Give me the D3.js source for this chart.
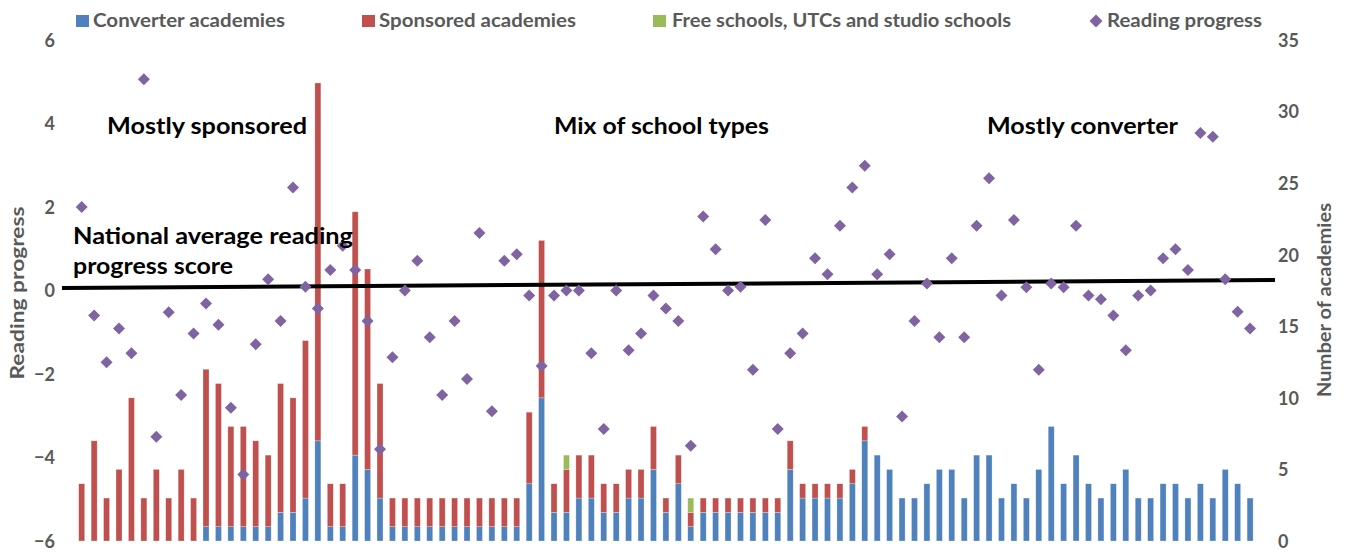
<!DOCTYPE html>
<html>
<head>
<meta charset="utf-8">
<script src="https://cdn.jsdelivr.net/npm/d3@7/dist/d3.min.js"></script>
<style>
  html, body { margin: 0; padding: 0; background: #ffffff; }
  svg { display: block; }
  text { font-family: Lato, "Open Sans", "DejaVu Sans", sans-serif; }
</style>
</head>
<body>
<svg id="chart" width="1351" height="556"></svg>
<script>
// ---------------- DATA ----------------
const converter = [0,0,0,0,0,0,0,0,0,0,
  1,1,1,1,1,1,
  2,2,3,7,1,1,6,5,3,
  1,1,1,1,1,1,1,1,1,1,1,
  4,10,2,2,3,3,2,2,3,3,5,2,
  4,1,2,
  2,2,2,2,2,2,
  5,3,3,3,3,4,7,
  6,5,3,3,4,5,5,3,6,6,3,4,3,5,8,4,
  6,4,3,4,5,3,3,4,4,3,4,3,5,4,3];
const sponsored = [4,7,3,5,10,3,5,3,5,3,
  11,10,7,7,6,5,
  9,8,11,25,3,3,17,14,8,
  2,2,2,2,2,2,2,2,2,2,2,
  5,11,2,3,3,3,2,2,2,2,3,1,
  2,1,1,
  1,1,1,1,1,1,
  2,1,1,1,1,1,1,
  0,0,0,0,0,0,0,0,0,0,0,0,0,0,0,0,
  0,0,0,0,0,0,0,0,0,0,0,0,0,0,0];
const freeSchools = [0,0,0,0,0,0,0,0,0,0,
  0,0,0,0,0,0,
  0,0,0,0,0,0,0,0,0,
  0,0,0,0,0,0,0,0,0,0,0,
  0,0,0,1,0,0,0,0,0,0,0,0,
  0,1,0,
  0,0,0,0,0,0,
  0,0,0,0,0,0,0,
  0,0,0,0,0,0,0,0,0,0,0,0,0,0,0,0,
  0,0,0,0,0,0,0,0,0,0,0,0,0,0,0];
const readingProgress = [2.0,-0.6,-1.72,-0.91,-1.5,5.06,-3.5,-0.52,-2.5,-1.03,
  -0.31,-0.82,-2.81,-4.41,-1.29,0.27,
  -0.73,2.47,0.09,-0.43,0.49,1.07,0.49,-0.73,-3.8,
  -1.6,0.0,0.71,-1.12,-2.5,-0.73,-2.12,1.38,-2.89,0.71,0.87,
  -0.12,-1.81,-0.12,0.0,0.0,-1.5,-3.32,0.0,-1.43,-1.03,-0.12,-0.43,
  -0.73,-3.72,1.77,
  0.99,0.0,0.09,-1.9,1.69,-3.32,
  -1.5,-1.03,0.77,0.39,1.55,2.47,2.99,
  0.39,0.87,-3.02,-0.73,0.17,-1.12,0.77,-1.12,1.55,2.69,-0.12,1.69,0.08,-1.9,0.17,0.08,
  1.55,-0.12,-0.21,-0.6,-1.43,-0.12,0.0,0.77,0.99,0.49,3.77,3.68,0.27,-0.51,-0.91];
const nationalAverage = [0.06, 0.25];   // line start / end value
const leftTicks = [-6,-4,-2,0,2,4,6];
const rightTicks = [0,5,10,15,20,25,30,35];
const seriesNames = ["Converter academies","Sponsored academies","Free schools, UTCs and studio schools","Reading progress"];
const seriesColors = ["#4F81BD","#C0504D","#9BBB59","#8064A2"];
const annotations = ["Mostly sponsored","Mix of school types","Mostly converter"];
const nationalLabel = ["National average reading","progress score"];

// ---------------- LAYOUT ----------------
const svg = d3.select("#chart");
const plotL = 62, plotR = 1275, plotT = 40, plotB = 541;
const idx = d3.range(converter.length);
const x = d3.scaleBand().domain(idx).range([75.5, 1256.3]).padding(0);
const yL = d3.scaleLinear().domain([-6, 6]).range([plotB, plotT]);
const yR = d3.scaleLinear().domain([0, 35]).range([plotB, plotT]);
const barW = 6;

// stacked data
const rows = idx.map(i => ({i, c: converter[i], s: sponsored[i], f: freeSchools[i]}));
const stack = d3.stack().keys(["c","s","f"])(rows);

const barsG = svg.append("g");
stack.forEach((layer, k) => {
  barsG.append("g").attr("fill", seriesColors[k])
    .selectAll("rect").data(layer.filter(d => d[1] - d[0] > 0)).join("rect")
    .attr("x", d => x(d.data.i) + x.bandwidth()/2 - barW/2)
    .attr("width", barW)
    .attr("y", d => yR(d[1]))
    .attr("height", d => yR(d[0]) - yR(d[1]))
    .attr("stroke", "#ffffff").attr("stroke-opacity", 0.45).attr("stroke-width", 0.6);
});

// national average line
svg.append("line")
  .attr("x1", plotL).attr("x2", plotR)
  .attr("y1", yL(nationalAverage[0])).attr("y2", yL(nationalAverage[1]))
  .attr("stroke", "#000").attr("stroke-width", 4);

// diamonds
const diamond = r => `M0,${-r}L${r},0L0,${r}L${-r},0Z`;
svg.append("g").selectAll("path").data(idx).join("path")
  .attr("d", diamond(6))
  .attr("transform", i => `translate(${x(i) + x.bandwidth()/2},${yL(readingProgress[i])})`)
  .attr("fill", seriesColors[3]);

// axes (labels only, no lines)
const axL = d3.axisLeft(yL).tickValues(leftTicks).tickSize(0).tickPadding(0);
const gL = svg.append("g").attr("transform", "translate(55,0)").call(axL);
const axR = d3.axisRight(yR).tickValues(rightTicks).tickSize(0).tickPadding(0);
const gR = svg.append("g").attr("transform", "translate(1278,0)").call(axR);
[gL, gR].forEach(g => {
  g.select(".domain").remove();
  g.selectAll("text").attr("fill", "#595959").attr("font-size", 18).attr("font-weight", "bold")
    .attr("font-family", "Lato, 'Open Sans', sans-serif").attr("dy", "0.35em");
});

// axis titles
svg.append("text").attr("transform", "translate(24,293) rotate(-90)")
  .attr("text-anchor", "middle").attr("fill", "#595959").attr("font-size", 19).attr("font-weight", "bold")
  .attr("textLength", 173).attr("lengthAdjust", "spacingAndGlyphs")
  .text("Reading progress");
svg.append("text").attr("transform", "translate(1331,300) rotate(-90)")
  .attr("text-anchor", "middle").attr("fill", "#595959").attr("font-size", 19).attr("font-weight", "bold")
  .attr("textLength", 194).attr("lengthAdjust", "spacingAndGlyphs")
  .text("Number of academies");

// annotations
const annPos = [[107, 200], [554, 215], [987, 191]];
annotations.forEach((t, k) => {
  svg.append("text").attr("x", annPos[k][0]).attr("y", 134)
    .attr("font-size", 23).attr("font-weight", "bold").attr("fill", "#000")
    .attr("textLength", annPos[k][1]).attr("lengthAdjust", "spacingAndGlyphs").text(t);
});
svg.append("text").attr("x", 73).attr("y", 243.5)
  .attr("font-size", 23).attr("font-weight", "bold").attr("fill", "#000")
  .attr("textLength", 280).attr("lengthAdjust", "spacingAndGlyphs").text(nationalLabel[0]);
svg.append("text").attr("x", 73).attr("y", 274)
  .attr("font-size", 23).attr("font-weight", "bold").attr("fill", "#000")
  .attr("textLength", 160).attr("lengthAdjust", "spacingAndGlyphs").text(nationalLabel[1]);

// legend
const legItems = [
  {sx: 76, tx: 93, w: 192},
  {sx: 362, tx: 379, w: 197},
  {sx: 653, tx: 672, w: 339},
  {sx: 1089, tx: 1107, w: 155}
];
const lg = svg.append("g");
legItems.forEach((d, k) => {
  if (k < 3) {
    lg.append("rect").attr("x", d.sx).attr("y", 15).attr("width", 13).attr("height", 12).attr("fill", seriesColors[k]);
  } else {
    lg.append("path").attr("d", diamond(6.5)).attr("transform", `translate(${d.sx + 7},21)`).attr("fill", seriesColors[k]);
  }
  lg.append("text").attr("x", d.tx).attr("y", 27).attr("font-size", 18).attr("font-weight", "bold")
    .attr("fill", "#595959").attr("textLength", d.w).attr("lengthAdjust", "spacingAndGlyphs")
    .text(seriesNames[k]);
});
</script>
</body>
</html>
